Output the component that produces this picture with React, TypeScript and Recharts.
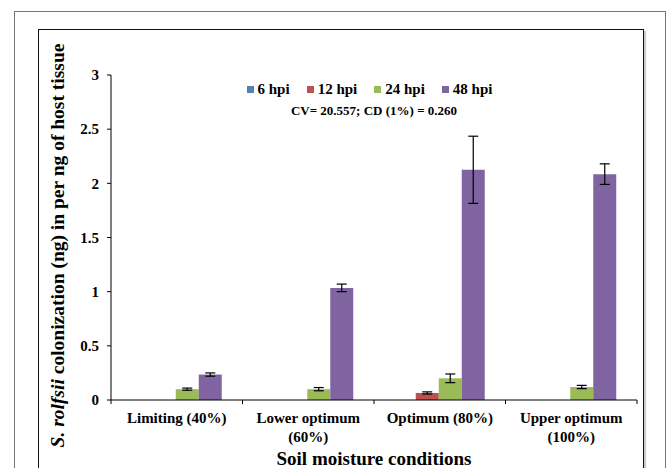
import React from "react";
import {
  BarChart,
  Bar,
  XAxis,
  YAxis,
  Legend,
  ErrorBar,
  Label,
} from "recharts";

const categories = ["Limiting (40%)", "Lower optimum (60%)", "Optimum (80%)", "Upper optimum (100%)"];
const tickLines = [["Limiting (40%)"], ["Lower optimum", "(60%)"], ["Optimum (80%)"], ["Upper optimum", "(100%)"]];

const hpi6 = [0, 0, 0, 0];
const hpi12 = [0, 0, 0.065, 0];
const hpi24 = [0.1, 0.1, 0.2, 0.12];
const hpi48 = [0.235, 1.035, 2.125, 2.085];

const err12 = [0, 0, 0.01, 0];
const err24 = [0.01, 0.015, 0.04, 0.015];
const err48 = [0.015, 0.035, 0.31, 0.095];

const yTicks = [0, 0.5, 1, 1.5, 2, 2.5, 3];

const seriesNames = ["6 hpi", "12 hpi", "24 hpi", "48 hpi"];
const colors = ["#4F81BD", "#C0504D", "#9BBB59", "#8064A2"];

const FONT = '"Liberation Serif", "Times New Roman", serif';

const data = categories.map((name, i) => ({
  name,
  h6: hpi6[i],
  h12: hpi12[i],
  h24: hpi24[i],
  h48: hpi48[i],
  e12: err12[i],
  e24: err24[i],
  e48: err48[i],
}));

const CategoryTick = (props: any) => {
  const { x, y, payload, index } = props;
  const half = payload && payload.offset ? payload.offset : 65.75;
  const lines = tickLines[index] || [String(payload.value)];
  return (
    <g>
      <line x1={x - half} x2={x - half} y1={y} y2={y + 4} stroke="#000" />
      {index === categories.length - 1 && (
        <line x1={x + half} x2={x + half} y1={y} y2={y + 4} stroke="#000" />
      )}
      {lines.map((line: string, k: number) => (
        <text
          key={k}
          x={x}
          y={y + 23 + k * 19}
          textAnchor="middle"
          fontFamily={FONT}
          fontWeight="bold"
          fontSize={15}
          fill="#000"
        >
          {line}
        </text>
      ))}
    </g>
  );
};

// keep legend in series order (recharts 3 sorts by name otherwise)
const renderLegend = () => (
  <div style={{ fontFamily: FONT, fontWeight: "bold", color: "#000" }}>
    <div
      style={{
        display: "flex",
        justifyContent: "center",
        alignItems: "center",
        fontSize: 15,
        lineHeight: "17px",
        marginRight: 9,
      }}
    >
      {seriesNames.map((name, i) => (
        <div key={name} style={{ display: "flex", alignItems: "center", marginLeft: i === 0 ? 0 : 17 }}>
          <span style={{ width: 7, height: 7, background: colors[i], marginRight: 4 }} />
          <span>{name}</span>
        </div>
      ))}
    </div>
    <div style={{ textAlign: "center", fontSize: 13, lineHeight: "15px", marginTop: 5 }}>
      CV= 20.557; CD (1%) = 0.260
    </div>
  </div>
);

const YTitle = () => {
  const cx = 57;
  const cy = 245.5;
  return (
    <text
      x={cx}
      y={cy}
      transform={`rotate(-90 ${cx} ${cy})`}
      textAnchor="middle"
      dominantBaseline="central"
      fontFamily={FONT}
      fontWeight="bold"
      fontSize={19.5}
      fill="#000"
    >
      <tspan fontStyle="italic">S. rolfsii</tspan>
      <tspan> colonization (ng) in per ng of host tissue</tspan>
    </text>
  );
};

const XTitle = () => (
  <text
    x={374}
    y={465}
    textAnchor="middle"
    fontFamily={FONT}
    fontWeight="bold"
    fontSize={19}
    fill="#000"
  >
    Soil moisture conditions
  </text>
);

export default function App() {
  return (
    <div
      style={{
        position: "absolute",
        left: 0,
        top: 0,
        width: 669,
        height: 468,
        overflow: "hidden",
        background: "#fff",
      }}
    >
      <div
        style={{
          position: "absolute",
          left: 14,
          top: 11,
          width: 652,
          height: 500,
          border: "1.5px solid #777",
          boxSizing: "border-box",
        }}
      />
      <div
        style={{
          position: "absolute",
          left: 38,
          top: 29,
          width: 606,
          height: 500,
          border: "1px solid #111",
          boxSizing: "border-box",
          boxShadow: "2px 2px 1px #ccc",
        }}
      />
      <div style={{ position: "absolute", left: 0, top: 0 }}>
        <BarChart
          width={669}
          height={468}
          data={data}
          margin={{ top: 75, right: 32, left: 41, bottom: 8 }}
          barCategoryGap="14.26%"
          barGap={0}
        >
          <XAxis
            dataKey="name"
            height={60}
            axisLine={{ stroke: "#000" }}
            tickLine={false}
            tickSize={0}
            tickMargin={0}
            interval={0}
            tick={<CategoryTick />}
          >
            <Label content={<XTitle />} />
          </XAxis>
          <YAxis
            width={70}
            domain={[0, 3]}
            ticks={yTicks}
            axisLine={{ stroke: "#000" }}
            tickLine={{ stroke: "#000" }}
            tickSize={4}
            tickMargin={8}
            tick={{ fontFamily: FONT, fontWeight: "bold", fontSize: 15, fill: "#000" }}
          >
            <Label content={<YTitle />} />
          </YAxis>
          <Legend
            layout="horizontal"
            verticalAlign="middle"
            align="center"
            content={renderLegend}
            wrapperStyle={{ top: 81, left: 111, width: 526, height: 40 }}
          />
          <Bar dataKey="h6" name={seriesNames[0]} fill={colors[0]} isAnimationActive={false} />
          <Bar dataKey="h12" name={seriesNames[1]} fill={colors[1]} isAnimationActive={false}>
            <ErrorBar dataKey="e12" width={5} stroke="#000" strokeWidth={1.2} />
          </Bar>
          <Bar dataKey="h24" name={seriesNames[2]} fill={colors[2]} isAnimationActive={false}>
            <ErrorBar dataKey="e24" width={5} stroke="#000" strokeWidth={1.2} />
          </Bar>
          <Bar dataKey="h48" name={seriesNames[3]} fill={colors[3]} isAnimationActive={false}>
            <ErrorBar dataKey="e48" width={5} stroke="#000" strokeWidth={1.2} />
          </Bar>
        </BarChart>
      </div>
    </div>
  );
}
